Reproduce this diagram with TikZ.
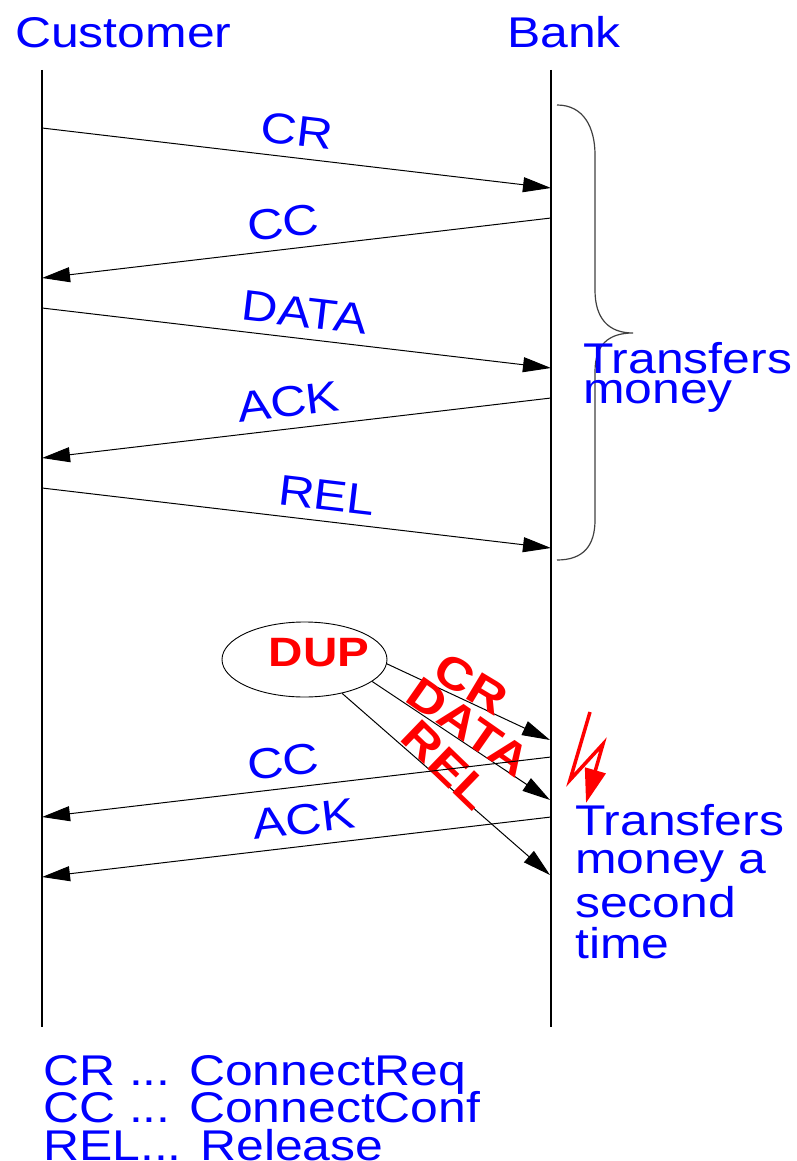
\documentclass[tikz,border=0pt]{standalone}
\usepackage{fontspec}
\setmainfont[FakeStretch=1.16]{Liberation Sans}
\usetikzlibrary{arrows.meta,shapes.geometric}
\definecolor{txtblue}{RGB}{0,0,255}
\definecolor{txtred}{RGB}{255,0,0}
\begin{document}
\begin{tikzpicture}[x=1pt,y=-1pt,
  lifeline/.style={line width=1.4pt},
  msg/.style={line width=1pt, -{Triangle[length=28pt,width=15pt]}},
  msglabel/.style={font=\fontsize{43}{43}\selectfont, text=txtblue, sloped,
    anchor=south, inner xsep=0pt, inner ysep=11pt},
  bluetext/.style={font=\fontsize{43}{43}\selectfont, text=txtblue,
    inner sep=0pt, anchor=base west},
  redlabel/.style={font=\fontsize{41}{41}\selectfont\bfseries, text=txtred,
    inner sep=0pt},
  dupmsg/.style={redlabel, font=\fontsize{45}{45}\selectfont\bfseries},
  braceline/.style={line width=1.2pt, black!75},
]
\useasboundingbox (0,0) rectangle (796,1161);

% parties
\node[bluetext] (cust) at (15,48) {Customer};
\node[bluetext] (bank) at (507,48) {Bank};

% lifelines
\coordinate (ctop) at (42,70);
\coordinate (cbot) at (42,1027);
\coordinate (btop) at (551,70);
\coordinate (bbot) at (551,1027);
\draw[lifeline] (ctop) -- (cbot);
\draw[lifeline] (btop) -- (bbot);

% message end points on the lifelines
\coordinate (c1) at (42,128);  \coordinate (b1) at (551,188);
\coordinate (b2) at (551,218); \coordinate (c2) at (42,278);
\coordinate (c3) at (42,308);  \coordinate (b3) at (551,368);
\coordinate (b4) at (551,398); \coordinate (c4) at (42,458);
\coordinate (c5) at (42,488);  \coordinate (b5) at (551,548);
\coordinate (b6) at (551,757); \coordinate (c6) at (42,817);
\coordinate (b7) at (551,817); \coordinate (c7) at (42,877);

% normal connection
\draw[msg] (c1) -- node[msglabel, pos=.495] (lcr) {CR} (b1);
\draw[msg] (b2) -- node[msglabel, pos=.52] (lcc) {CC} (c2);
\draw[msg] (c3) -- node[msglabel, pos=.51] (ldata) {DATA} (b3);
\draw[msg] (b4) -- node[msglabel, pos=.51] (lack) {ACK} (c4);
\draw[msg] (c5) -- node[msglabel, pos=.554] (lrel) {REL} (b5);

% brace over the first connection
\draw[braceline] (557,105) .. controls (584,105) and (595,128) .. (595,155)
  -- (595,290) .. controls (595,318) and (608,333) .. (633,333)
  .. controls (608,333) and (595,345) .. (595,372)
  -- (595,520) .. controls (595,545) and (584,560) .. (557,560);
\node[bluetext] (tra) at (583,373) {Transfers};
\node[bluetext] (trb) at (583,403) {money};

% delayed duplicates
\node[draw, ellipse, line width=0.9pt, minimum width=165pt, minimum height=75pt,
  inner sep=0pt] (dup) at (304.5,659.5) {};
\node[redlabel] (duptext) at (319,653) {DUP};
\coordinate (d1) at (550,740);
\coordinate (d2) at (550,800);
\coordinate (d3) at (550,875);
\draw[msg] (dup.-3) -- (d1);
\draw[msg] (dup.-18) -- (d2);
\draw[msg] (dup.-42) -- (d3);
\node[dupmsg, rotate=-31] (rcr) at (471,684) {CR};
\node[dupmsg, rotate=-35] (rdata) at (469,727) {DATA};
\node[dupmsg, rotate=-44] (rrel) at (447,765) {REL};

% replies to the duplicates
\draw[msg] (b6) -- node[msglabel, pos=.52] (lcc2) {CC} (c6);
\draw[msg] (b7) -- node[msglabel, pos=.479] (lack2) {ACK} (c7);

% lightning bolt
\draw[txtred, line width=3.5pt, -{Triangle[length=34pt,width=21pt]}]
  (590,712) -- (570,780) -- (603,744) -- (586,803);

\node[bluetext] (trc) at (575,835) {Transfers};
\node[bluetext] (trd) at (575,873) {money a};
\node[bluetext] (tre) at (575,917) {second};
\node[bluetext] (trf) at (575,958) {time};

% legend
\node[bluetext] (lg1) at (43,1085) {CR ... ConnectReq};
\node[bluetext] (lg2) at (43,1122) {CC ... ConnectConf};
\node[bluetext] (lg3) at (43,1160) {REL... Release};
\end{tikzpicture}
\end{document}
